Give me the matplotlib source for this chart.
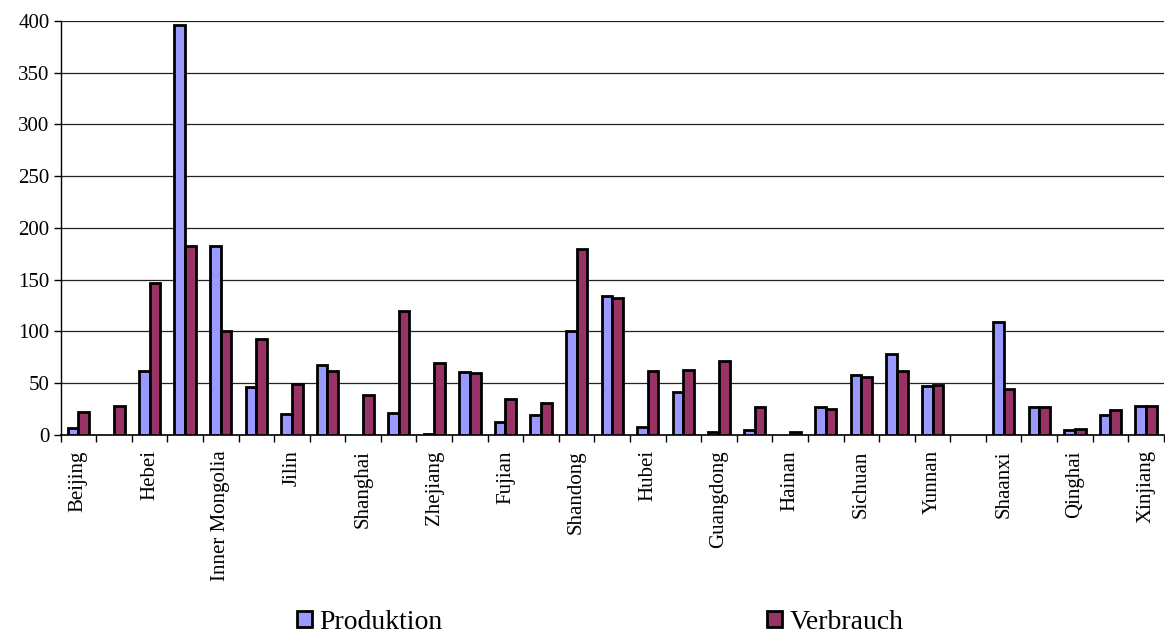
import numpy as np
import matplotlib
matplotlib.use("Agg")
import matplotlib.pyplot as plt

plt.rcParams['font.family'] = ['Liberation Serif', 'DejaVu Serif']

provinces = ["Beijing", "Tianjin", "Hebei", "Shanxi", "Inner Mongolia", "Liaoning",
             "Jilin", "Heilongjiang", "Shanghai", "Jiangsu", "Zhejiang", "Anhui",
             "Fujian", "Jiangxi", "Shandong", "Henan", "Hubei", "Hunan", "Guangdong",
             "Guangxi", "Hainan", "Chongqing", "Sichuan", "Guizhou", "Yunnan", "Tibet",
             "Shaanxi", "Gansu", "Qinghai", "Ningxia", "Xinjiang"]
produktion = [7, 0, 62, 396, 183, 46, 20, 68, 0, 21, 1, 61, 13, 19, 100, 134,
              8, 42, 3, 5, 0, 27, 58, 78, 47, 0, 109, 27, 5, 19, 28]
verbrauch = [22, 28, 147, 183, 100, 93, 49, 62, 39, 120, 70, 60, 35, 31, 180, 132,
             62, 63, 71, 27, 3, 25, 56, 62, 48, 0, 44, 27, 6, 24, 28]

x = np.arange(len(provinces))
w = 0.3

fig = plt.figure(figsize=(11.65, 6.35), dpi=100)
ax = fig.add_axes([0.052, 0.315, 0.947, 0.652])

b1 = ax.bar(x - w / 2, produktion, w, color="#9999FF", edgecolor="black", linewidth=2,
            label="Produktion", zorder=3)
b2 = ax.bar(x + w / 2, verbrauch, w, color="#993366", edgecolor="black", linewidth=2,
            label="Verbrauch", zorder=3)
# Excel draws nothing for zero values
for bars in (b1, b2):
    for r in bars:
        if r.get_height() == 0:
            r.set_visible(False)

ax.set_xlim(-0.5, len(provinces) - 0.5)
ax.set_ylim(0, 400)
ax.set_yticks(np.arange(0, 401, 50))
ax.yaxis.grid(True, color="#222222", linewidth=0.9, zorder=0)

ax.set_xticks(x[::2])
ax.set_xticklabels(provinces[::2], rotation=90, fontsize=15)
ax.tick_params(axis="x", length=0, pad=11)
ax.set_xticks(np.arange(-0.5, len(provinces), 1), minor=True)
ax.tick_params(axis="x", which="minor", length=5, width=1, direction="out")
ax.tick_params(axis="y", labelsize=15, length=5, width=1, direction="out", pad=3)

for s in ["top", "right"]:
    ax.spines[s].set_visible(False)
ax.spines["left"].set_linewidth(1)
ax.spines["bottom"].set_linewidth(1.2)

leg = fig.legend(loc="center", bbox_to_anchor=(0.515, 0.02), ncol=2, frameon=False,
                 fontsize=20, handlelength=0.55, handleheight=0.55, handletextpad=0.25,
                 columnspacing=11.7)
for h in leg.legend_handles:
    h.set_linewidth(2)

fig.savefig("out.png", dpi=100)
